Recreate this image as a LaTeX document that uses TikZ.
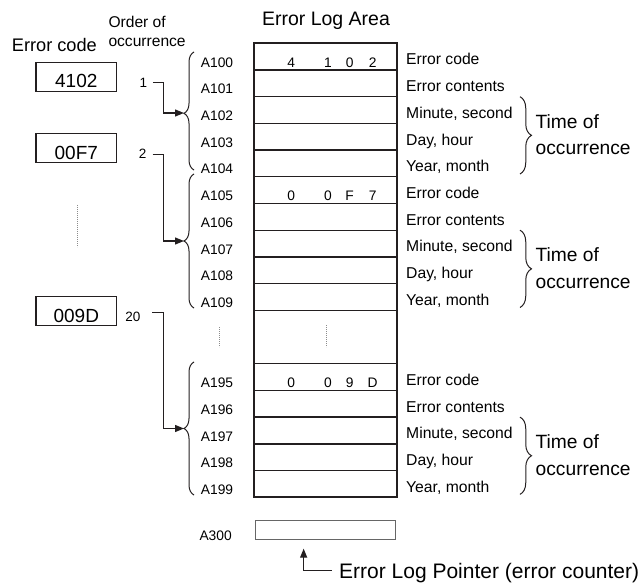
\documentclass[tikz,border=0pt]{standalone}
\usepackage{fontspec}
\setmainfont{Liberation Sans}
\usepackage{tikz}
\usetikzlibrary{arrows.meta, calc, decorations.pathreplacing}
\definecolor{logink}{HTML}{231F20}
\definecolor{logdots}{gray}{0.55}
\tikzset{
  headtext/.style = {font=\fontsize{19.5}{20}\selectfont, inner sep=0pt},
  subhead/.style  = {font=\fontsize{15.6}{19.4}\selectfont, inner sep=0pt,
                     align=left},
  codebox/.style  = {draw=logink, line width=1.3pt, minimum width=80.7pt,
                     minimum height=29pt, inner sep=0pt,
                     font=\fontsize{19}{19}\selectfont,
                     text height=21.6pt, text depth=0pt},
  ordnum/.style   = {font=\fontsize{13.5}{14}\selectfont, inner sep=0pt,
                     anchor=base east},
  addrlbl/.style  = {font=\fontsize{13.8}{14}\selectfont, inner sep=0pt,
                     anchor=base west},
  nibble/.style   = {font=\fontsize{13.8}{14}\selectfont, inner sep=0pt,
                     anchor=base},
  fieldlbl/.style = {font=\fontsize{15.7}{16}\selectfont, inner sep=0pt,
                     anchor=base west},
  timelbl/.style  = {font=\fontsize{19.2}{26.7}\selectfont, inner sep=0pt,
                     align=left, anchor=west},
  logframe/.style = {draw=logink, line width=1.9pt},
  logrow/.style   = {draw=logink, line width=1.4pt},
  ptrbox/.style   = {draw=gray!80!black, line width=0.8pt,
                     minimum width=140.7pt, minimum height=18.3pt, inner sep=0pt},
  errlink/.style  = {draw=logink, line width=1.2pt,
                     -{Triangle[length=9pt, width=7pt]}},
  lbrace/.style   = {draw=logink, line width=1pt, decorate,
                     decoration={brace, amplitude=10pt, aspect=#1}},
  lbrace/.default = 0.5,
  rbrace/.style   = {draw=logink, line width=1pt, decorate,
                     decoration={brace, amplitude=11.5pt}},
  gapdots/.style  = {draw=logdots, line width=0.6pt,
                     dash pattern=on 0.8pt off 1.2pt},
}

\begin{document}
\begin{tikzpicture}[x=1pt, y=-1pt]
  \useasboundingbox (0,0) rectangle (643,583);
  % headings
  \node[headtext, anchor=base] (title) at (326,25.5) {Error Log Area};
  \node[font=\fontsize{18.2}{19}\selectfont, inner sep=0pt,
    anchor=base west] (codehead) at (11.7,52) {Error code};
  \node[subhead, anchor=north west] (ordhead) at (108.3,16) {Order of\\occurrence};

  % error codes and their order
  \node[codebox] (code1)  at (76.3,77.2)  {4102};
  \node[codebox] (code2)  at (76.3,148.3) {00F7};
  \node[codebox] (code20) at (76.3,311.2) {009D};
  \node[ordnum] (ord1)  at (147.3,87.3) {1};
  \node[ordnum] (ord2)  at (146.7,158.3) {2};
  \node[ordnum] (ord20) at (140.7,321) {20};
  \draw[gapdots] (77.3,205) -- (77.3,247);

  % error log area
  \draw[logframe] (254,43.3) rectangle (396.7,497.2);
  \foreach \k in {1,...,10,12,13,14,15,16}
    \draw[logrow] (254,{43.3+26.7*\k}) -- (396.7,{43.3+26.7*\k});
  \draw[gapdots] (326,325) -- (326,347);
  \draw[gapdots] (219,327) -- (219,347);

  \foreach \j in {0,...,9}
    \node[addrlbl] (a10\j) at (200.7,{67.2+26.7*\j}) {A10\j};
  \foreach \j in {5,...,9}
    \node[addrlbl] (a19\j) at (200.7,{67.2+26.7*(\j+7)}) {A19\j};

  \foreach \s/\p/\q/\r/\t in {0/4/1/0/2, 5/0/0/F/7, 12/0/0/9/D} {
    \node[nibble] (n\s-1) at (291.2,{67.2+26.7*\s}) {\p};
    \node[nibble] (n\s-2) at (328,{67.2+26.7*\s}) {\q};
    \node[nibble] (n\s-3) at (349.7,{67.2+26.7*\s}) {\r};
    \node[nibble] (n\s-4) at (372.7,{67.2+26.7*\s}) {\t};
  }

  % fields of one record
  \foreach \s in {0,5,12} {
    \foreach \f [count=\i from 0] in {Error code, Error contents,
        {Minute, second}, {Day, hour}, {Year, month}}
      \node[fieldlbl] (f\s-\i) at (406,{65+26.7*(\s+\i)}) {\f};
    \draw[rbrace] (520,{96.7+26.7*\s}) -- (520,{174+26.7*\s});
    \node[timelbl] (time\s) at (535.5,{134.5+26.7*\s}) {Time of\\occurrence};
  }

  % where each record goes
  \draw[lbrace=0.48] (194,170) -- (194,52);
  \draw[lbrace] (194,308) -- (194,174);
  \draw[lbrace] (194,495) -- (194,362);
  \coordinate (tip1)  at (184,113);
  \coordinate (tip2)  at (184,241);
  \coordinate (tip20) at (184,428.5);
  \draw[errlink] ([xshift=5.5pt]ord1.east) -- ++(10.5,0) |- (tip1);
  \draw[errlink] ([shift={(6,1.2)}]ord2.east) -- ++(10.6,0) |- (tip2);
  \draw[errlink] ([shift={(11.6,-3.5)}]ord20.east) -- ++(11,0) |- (tip20);

  % pointer
  \node[ptrbox] (a300box) at (325.4,529.8) {};
  \node[addrlbl] (a300) at (199.3,540.7) {A300};
  \coordinate (ptrtip) at ([shift={(49,9.3)}]a300box.south west);
  \node[font=\fontsize{21}{21}\selectfont, inner sep=0pt, anchor=base west]
    (ptr) at (339,578.5) {Error Log Pointer (error counter)};
  \draw[errlink] ([shift={(-7.3,-7.8)}]ptr.base west) -| (ptrtip);
\end{tikzpicture}
\end{document}
